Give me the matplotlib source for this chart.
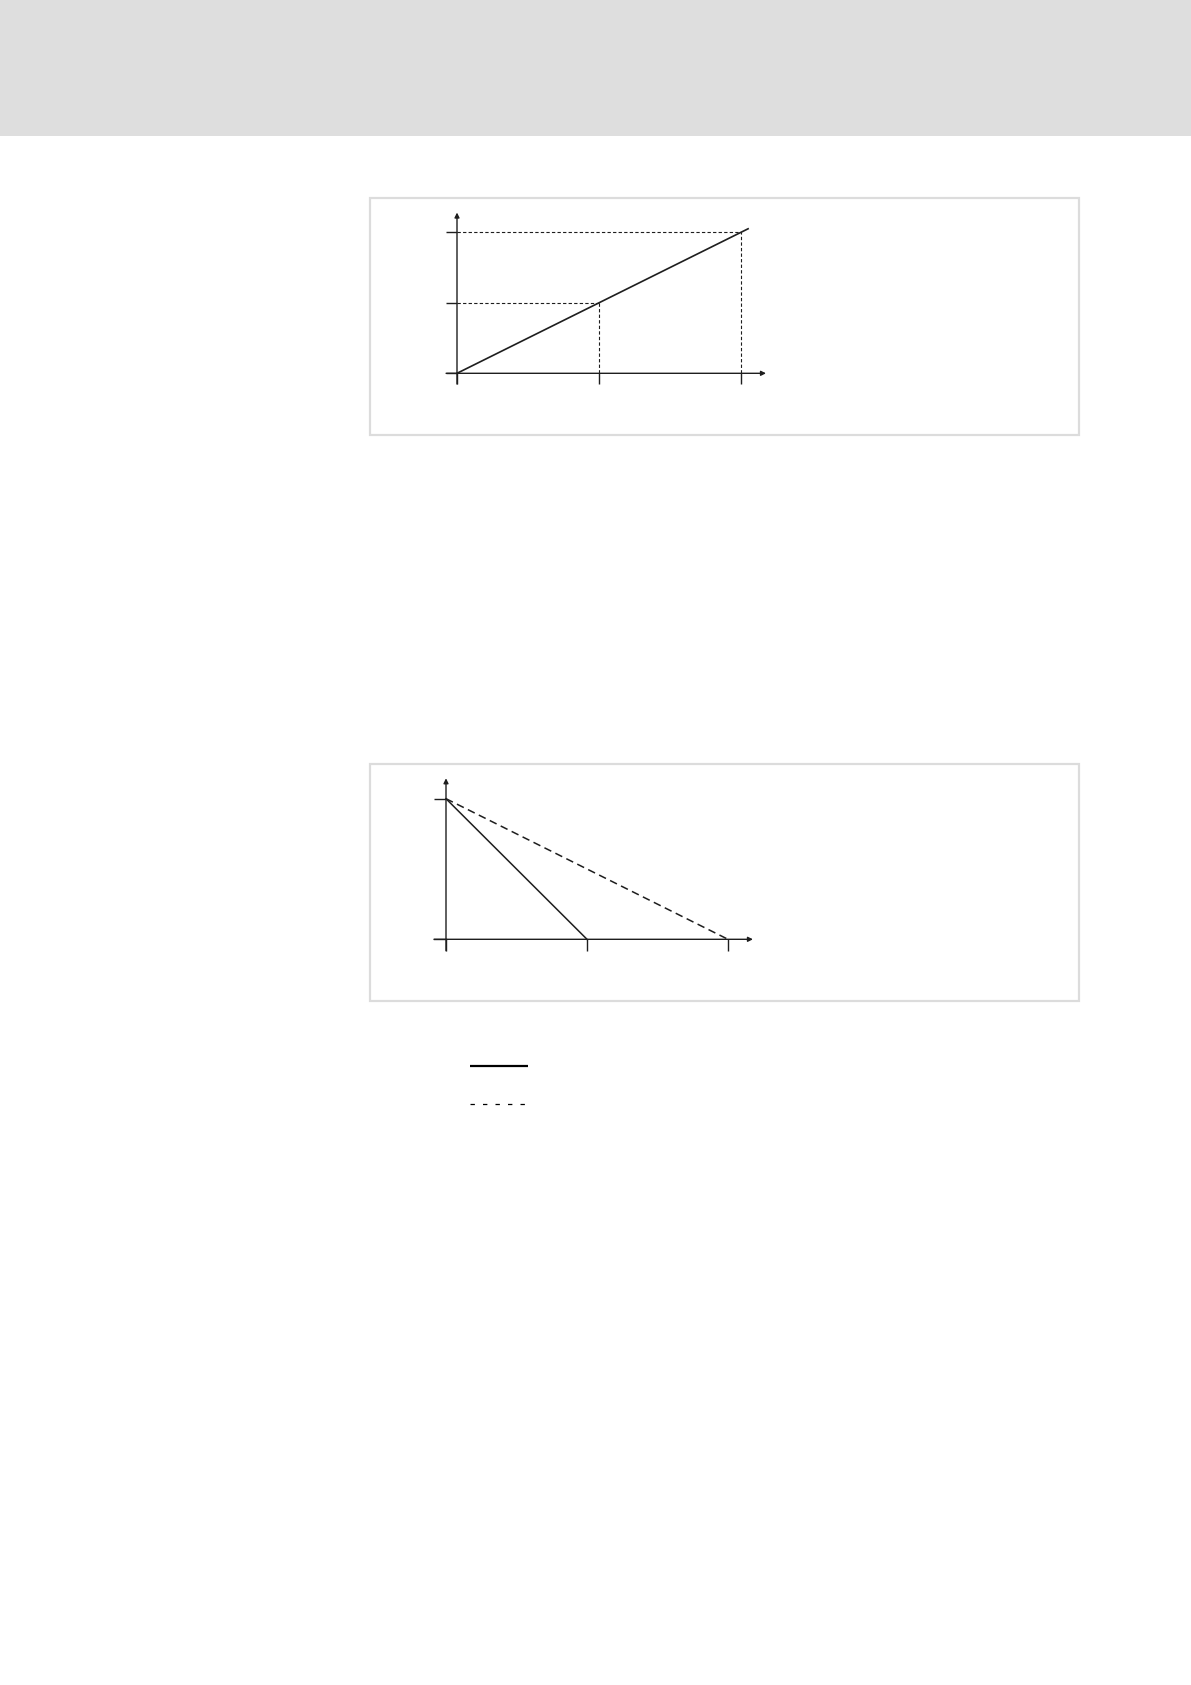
import matplotlib
matplotlib.use("Agg")
import matplotlib.pyplot as plt
from matplotlib.patches import Rectangle
from matplotlib.lines import Line2D

W, H = 1191, 1685

# top chart: linear characteristic through two marked points
top_x = [0, 2.05]
top_y = [0, 2.05]
top_marks_x = [1, 2]
top_marks_y = [1, 2]
top_xticks = [0, 1, 2]
top_yticks = [0, 1, 2]

# bottom chart: two ramps falling from the same start value
ramp_fast_x = [0, 1]
ramp_fast_y = [1, 0]
ramp_slow_x = [0, 2]
ramp_slow_y = [1, 0]
bot_xticks = [0, 1, 2]
bot_yticks = [0, 1]

ink = "#1e1e1e"
frame = "#dcdcdc"

fig = plt.figure(figsize=(W / 100, H / 100), dpi=100)
fig.patch.set_facecolor("white")


def fx(px):
    return px / W


def fy(py):
    return 1 - py / H


# page header band and the two figure frames
fig.add_artist(Rectangle((0, fy(136)), 1, 136 / H, transform=fig.transFigure,
                         facecolor="#dedede", edgecolor="none"))
for top, bottom in [(198, 435), (764, 1001)]:
    fig.add_artist(Rectangle((fx(370), fy(bottom)), (1079 - 370) / W, (bottom - top) / H,
                             transform=fig.transFigure, facecolor="none",
                             edgecolor=frame, linewidth=1.6))


def make_axes(box, origin, scale):
    left, top, right, bottom = box
    ox, oy = origin
    sx, sy = scale
    ax = fig.add_axes([fx(left), fy(bottom), (right - left) / W, (bottom - top) / H])
    ax.set_xlim((left - ox) / sx, (right - ox) / sx)
    ax.set_ylim((oy - bottom) / sy, (oy - top) / sy)
    ax.axis("off")
    return ax


def draw_frame(ax, xticks, yticks, x_end, y_end, tick_len_x, tick_len_y):
    arrow = dict(arrowstyle="-|>", lw=1.0, color=ink, mutation_scale=7,
                 shrinkA=0, shrinkB=0)
    ax.annotate("", xy=(x_end, 0), xytext=(-tick_len_x, 0), arrowprops=arrow)
    ax.annotate("", xy=(0, y_end), xytext=(0, -tick_len_y), arrowprops=arrow)
    for t in xticks:
        ax.plot([t, t], [0, -tick_len_y], color=ink, lw=1.0, solid_capstyle="butt")
    for t in yticks:
        ax.plot([-tick_len_x, 0], [t, t], color=ink, lw=1.0, solid_capstyle="butt")


# --- top chart ---
ax1 = make_axes((420, 200, 790, 400), (457, 373.3), (142, 70.5))
draw_frame(ax1, top_xticks, top_yticks, 2.176, 2.28, 0.077, 0.152)
for mx, my in zip(top_marks_x, top_marks_y):
    ax1.plot([0, mx], [my, my], color=ink, lw=0.8, linestyle=(0, (3, 2)))
    ax1.plot([mx, mx], [0, my], color=ink, lw=0.8, linestyle=(0, (3, 2)))
ax1.plot(top_x, top_y, color=ink, lw=1.2)

# --- bottom chart ---
ax2 = make_axes((420, 770, 790, 965), (446, 939.3), (141, 140.6))
draw_frame(ax2, bot_xticks, [t for t in bot_yticks if t != 0], 2.177, 1.145, 0.085, 0.081)
ax2.plot([-0.085, 0], [0, 0], color=ink, lw=1.0)
ax2.plot(ramp_fast_x, ramp_fast_y, color=ink, lw=1.1)
ax2.plot(ramp_slow_x, ramp_slow_y, color=ink, lw=1.1, linestyle=(0, (5, 3)))

# --- key below the bottom chart ---
fig.add_artist(Line2D([fx(470), fx(528)], [fy(1066), fy(1066)], transform=fig.transFigure,
                      color="black", lw=1.6, solid_capstyle="butt"))
fig.add_artist(Line2D([fx(470), fx(528)], [fy(1104), fy(1104)], transform=fig.transFigure,
                      color="black", lw=0.9, linestyle=(0, (3.5, 6.5))))

fig.savefig("out.png", dpi=100, facecolor="white")
